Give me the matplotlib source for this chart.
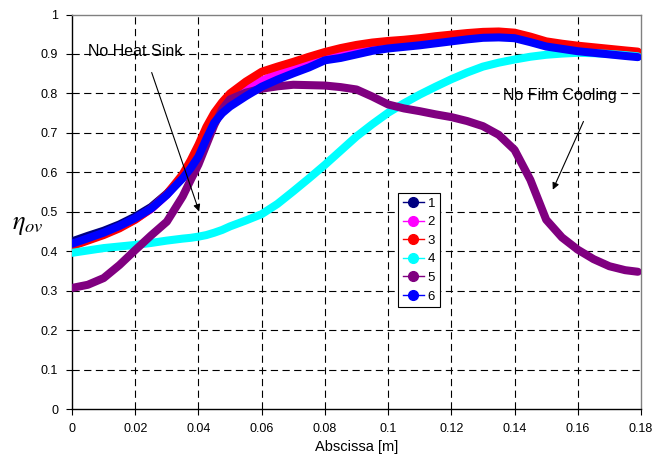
import matplotlib
matplotlib.use("Agg")
import matplotlib.pyplot as plt
from matplotlib.lines import Line2D

plt.rcParams["font.family"] = ["Liberation Sans", "DejaVu Sans"]
plt.rcParams["mathtext.fontset"] = "stix"

# abscissa [m]
x = [0, 0.005, 0.01, 0.015, 0.02, 0.025, 0.03, 0.035, 0.0375, 0.04,
     0.0425, 0.045, 0.0475, 0.05, 0.055, 0.06, 0.065, 0.07, 0.075, 0.08,
     0.085, 0.09, 0.095, 0.1, 0.105, 0.11, 0.115, 0.12, 0.125, 0.13,
     0.135, 0.14, 0.145, 0.15, 0.155, 0.16, 0.165, 0.17, 0.175, 0.179]

s1 = [0.425, 0.439, 0.452, 0.468, 0.488, 0.512, 0.546, 0.588, 0.614, 0.645,
      0.69, 0.731, 0.755, 0.772, 0.798, 0.82, 0.839, 0.855, 0.87, 0.888,
      0.894, 0.903, 0.912, 0.918, 0.922, 0.926, 0.931, 0.936, 0.941, 0.945,
      0.947, 0.946, 0.937, 0.926, 0.921, 0.916, 0.912, 0.909, 0.906, 0.903]
s2 = [0.415, 0.429, 0.443, 0.46, 0.481, 0.507, 0.543, 0.59, 0.62, 0.655,
      0.7, 0.738, 0.763, 0.783, 0.81, 0.832, 0.85, 0.864, 0.878, 0.892,
      0.9, 0.909, 0.917, 0.922, 0.926, 0.93, 0.936, 0.94, 0.945, 0.948,
      0.949, 0.947, 0.937, 0.925, 0.919, 0.914, 0.909, 0.905, 0.901, 0.898]
s3 = [0.413, 0.427, 0.441, 0.458, 0.48, 0.508, 0.545, 0.595, 0.63, 0.67,
      0.715, 0.751, 0.778, 0.8, 0.83, 0.855, 0.868, 0.88, 0.893, 0.905,
      0.915, 0.923, 0.929, 0.933, 0.936, 0.94, 0.945, 0.949, 0.953, 0.956,
      0.957, 0.954, 0.944, 0.932, 0.926, 0.921, 0.917, 0.913, 0.909, 0.906]
s4 = [0.396, 0.402, 0.408, 0.412, 0.416, 0.421, 0.427, 0.432, 0.434, 0.437,
      0.441, 0.447, 0.454, 0.463, 0.478, 0.494, 0.52, 0.552, 0.585, 0.619,
      0.655, 0.691, 0.722, 0.751, 0.775, 0.797, 0.817, 0.836, 0.853, 0.868,
      0.878, 0.886, 0.893, 0.898, 0.901, 0.903, 0.902, 0.9, 0.897, 0.894]
s5 = [0.307, 0.315, 0.332, 0.365, 0.403, 0.44, 0.475, 0.539, 0.58, 0.62,
      0.67, 0.72, 0.76, 0.785, 0.802, 0.812, 0.818, 0.822, 0.821, 0.82,
      0.816, 0.81, 0.792, 0.772, 0.762, 0.755, 0.747, 0.74, 0.73, 0.717,
      0.695, 0.657, 0.581, 0.48, 0.435, 0.404, 0.38, 0.362, 0.352, 0.348]
s6 = [0.419, 0.433, 0.447, 0.464, 0.484, 0.508, 0.543, 0.585, 0.61, 0.64,
      0.685, 0.726, 0.75, 0.767, 0.793, 0.817, 0.835, 0.851, 0.866, 0.884,
      0.89, 0.899, 0.908, 0.914, 0.918, 0.922, 0.927, 0.932, 0.937, 0.941,
      0.942, 0.94, 0.93, 0.919, 0.913, 0.907, 0.903, 0.899, 0.895, 0.892]

series = [s1, s2, s3, s4, s5, s6]
labels = ["1", "2", "3", "4", "5", "6"]
colors = ["#000080", "#FF00FF", "#FF0000", "#00FFFF", "#800080", "#0000FF"]

xticks = [0, 0.02, 0.04, 0.06, 0.08, 0.1, 0.12, 0.14, 0.16, 0.18]
xticklabels = ["0", "0.02", "0.04", "0.06", "0.08", "0.1", "0.12", "0.14", "0.16", "0.18"]
yticks = [0, 0.1, 0.2, 0.3, 0.4, 0.5, 0.6, 0.7, 0.8, 0.9, 1]
yticklabels = ["0", "0.1", "0.2", "0.3", "0.4", "0.5", "0.6", "0.7", "0.8", "0.9", "1"]


def main():
    fig = plt.figure(figsize=(6.67, 4.54), dpi=100)
    ax = fig.add_axes([0.108, 0.099, 0.853, 0.869])

    # grid first (excel style dashed)
    for v in yticks[1:-1]:
        ax.axhline(v, color="black", lw=0.8, dashes=(6.5, 4), zorder=1)
    for v in xticks[1:-1]:
        ax.axvline(v, color="black", lw=0.8, dashes=(6.5, 4), zorder=1)

    handles = []
    for ys, lab, c in zip(series, labels, colors):
        ax.plot(x, ys, color=c, lw=5.8, solid_capstyle="round",
                solid_joinstyle="round", zorder=3)
        handles.append(Line2D([], [], color=c, lw=1, marker="o", ms=7, mec=c, label=lab))

    ax.set_xlim(0, 0.18)
    ax.set_ylim(0, 1)
    ax.set_xticks(xticks)
    ax.set_xticklabels(xticklabels)
    ax.set_yticks(yticks)
    ax.set_yticklabels(yticklabels)
    ax.tick_params(labelsize=9, length=4, width=0.8, color="black", pad=6)

    for side in ["top", "right"]:
        ax.spines[side].set_color("#808080")
        ax.spines[side].set_linewidth(1)
    for side in ["left", "bottom"]:
        ax.spines[side].set_color("black")
        ax.spines[side].set_linewidth(1)

    ax.set_xlabel("Abscissa [m]", fontsize=10.5, labelpad=4)
    fig.text(0.042, 0.505, r"$\eta_{ov}$", fontsize=19, ha="center", va="center")

    # annotations
    ax.text(0.0051, 0.907, "No Heat Sink", fontsize=11.5, va="center", zorder=5)
    ax.annotate("", xy=(0.0402, 0.501), xytext=(0.0252, 0.853),
                arrowprops=dict(arrowstyle="-|>", color="black", lw=0.8,
                                mutation_scale=10, shrinkA=0, shrinkB=0), zorder=5)
    ax.text(0.1363, 0.794, "No Film Cooling", fontsize=11.5, va="center", zorder=5)
    ax.annotate("", xy=(0.1521, 0.556), xytext=(0.1618, 0.729),
                arrowprops=dict(arrowstyle="-|>", color="black", lw=0.8,
                                mutation_scale=10, shrinkA=0, shrinkB=0), zorder=5)

    leg = ax.legend(handles=handles, loc="upper left", bbox_to_anchor=(0.573, 0.548),
                    fontsize=9.5, frameon=True, fancybox=False, framealpha=1,
                    edgecolor="black", handlelength=1.6, handletextpad=0.3,
                    labelspacing=0.48, borderpad=0.35, borderaxespad=0)
    leg.get_frame().set_linewidth(0.8)
    leg.set_zorder(6)

    fig.savefig("out.png", dpi=100)


if __name__ == "__main__":
    main()
